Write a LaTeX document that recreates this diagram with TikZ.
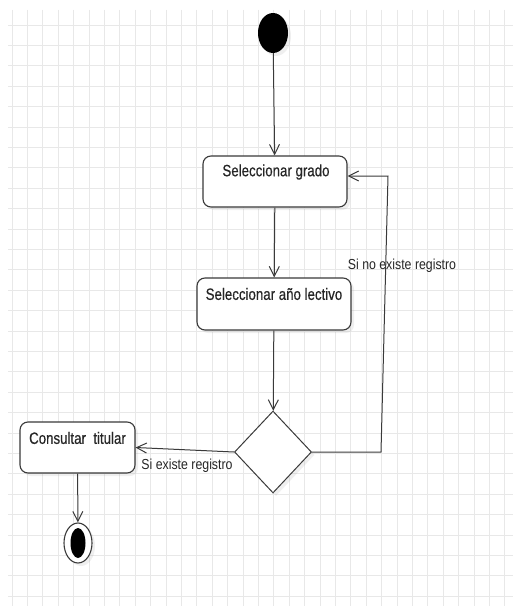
\documentclass[tikz,border=0pt]{standalone}
\usepackage{fontspec}
\setmainfont{Liberation Sans}[FakeStretch=0.85]
\newfontfamily\boxfont{Liberation Sans}[FakeStretch=0.81,FakeBold=0.5]
\usetikzlibrary{shapes.geometric,arrows.meta,shadows}
\definecolor{ln}{HTML}{3A3A3A}
\definecolor{tx}{HTML}{262626}
\definecolor{gridc}{HTML}{E8E8E8}
\begin{document}
\begin{tikzpicture}[x=1pt,y=-1pt,
  shad/.style={drop shadow={shadow xshift=3pt,shadow yshift=-3pt,opacity=0.12}},
  actbox/.style={draw=ln,line width=1.1pt,rounded corners=8pt,fill=white,shad,inner sep=0pt},
  acttext/.style={text=tx,font=\boxfont\fontsize{16.4}{19}\selectfont,inner sep=0pt},
  lbl/.style={text=tx,font=\fontsize{14.5}{17}\selectfont,inner sep=0pt},
  flow/.style={draw=ln,line width=1pt,-{Straight Barb[length=10pt,width=10pt,line width=1pt]}},
  plain/.style={draw=ln,line width=1pt}]
\useasboundingbox (0,0) rectangle (513,610);
\fill[white] (0,0) rectangle (513,610);
% grid
\foreach \k in {0,...,32} {\draw[gridc,line width=0.8pt] ({12+15.4*\k},10) -- ({12+15.4*\k},606);}
\foreach \k in {0,...,28} {\draw[gridc,line width=0.8pt] (8,{25+20.4*\k}) -- (513,{25+20.4*\k});}
% nodes
\node[ellipse,fill=black,minimum width=30pt,minimum height=40pt,inner sep=0pt,shad] (start) at (273,33) {};
\node[actbox,minimum width=144pt,minimum height=51pt] (grado) at (275,181.5) {};
\node[acttext] (gradot) at (276,172) {Seleccionar grado};
\node[actbox,minimum width=154pt,minimum height=52pt] (anio) at (274,304) {};
\node[acttext] (aniot) at (274,294) {Seleccionar año lectivo};
\node[diamond,draw=ln,line width=1pt,fill=white,minimum width=77pt,minimum height=82pt,inner sep=0pt,shad] (dec) at (273,452) {};
\node[actbox,minimum width=115pt,minimum height=51pt] (cons) at (77.5,447.5) {};
\node[acttext] (const) at (77.5,438) {Consultar\ \ titular};
\node[ellipse,draw=ln,line width=1.1pt,fill=white,minimum width=28pt,minimum height=40pt,inner sep=0pt,shad] (endo) at (78,543) {};
\node[ellipse,fill=black,minimum width=15pt,minimum height=30pt,inner sep=0pt] (endi) at (78,543) {};
% labels
\node[lbl] (l1) at (402,266) {Si no existe registro};
\node[lbl] (l2) at (187,466) {Si existe registro};
% connectors
\coordinate (c1) at (381,452);
\coordinate (c2) at (388,176);
\draw[flow] (start) -- (grado);
\draw[flow] (grado) -- (anio);
\draw[flow] (anio) -- (dec);
\draw[flow] (dec.west) -- (cons.east);
\draw[flow] (dec.east) -- (c1) -- (c2) -- (grado.east |- c2);
\draw[flow] (cons) -- (endo);
\end{tikzpicture}
\end{document}
